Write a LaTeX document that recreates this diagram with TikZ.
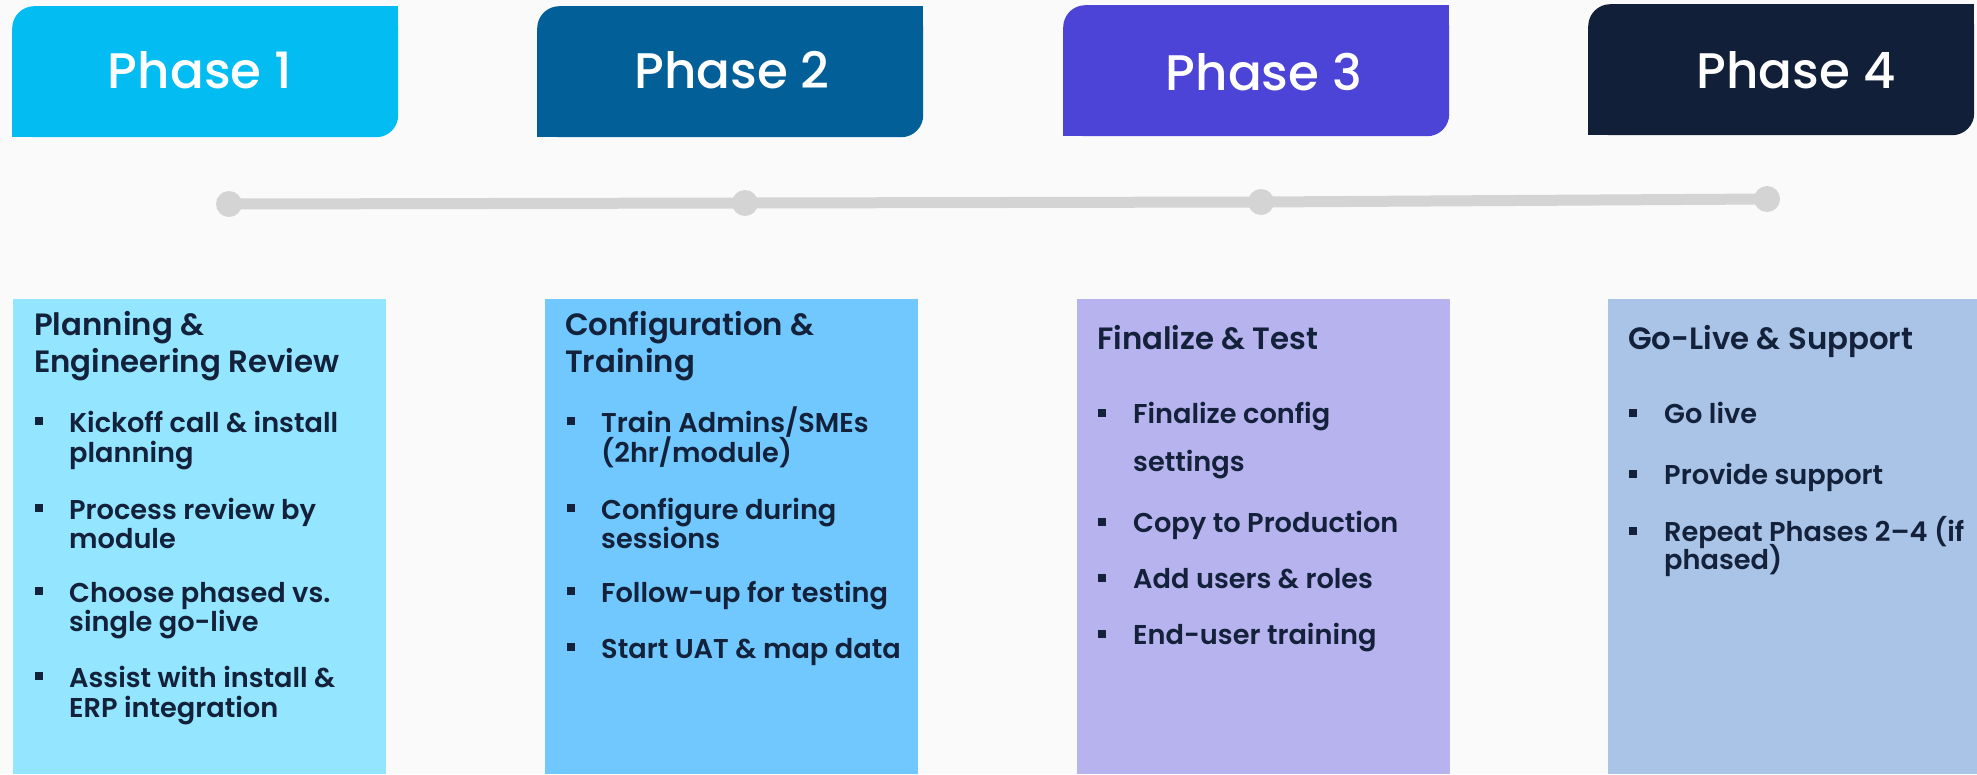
\documentclass[tikz,border=0pt]{standalone}
\usepackage{fontspec}
\setmainfont{Poppins}
\newfontfamily\hfont{Poppins Medium}
\newfontfamily\bfont{Poppins SemiBold}
\definecolor{bg}{HTML}{FAFAFA}
\definecolor{p1}{HTML}{02BCF2}
\definecolor{p2}{HTML}{025F98}
\definecolor{p3}{HTML}{4B44D6}
\definecolor{p4}{HTML}{112038}
\definecolor{c1}{HTML}{94E5FF}
\definecolor{c2}{HTML}{70C8FF}
\definecolor{c3}{HTML}{B7B3EE}
\definecolor{c4}{HTML}{A9C4E6}
\definecolor{ink}{HTML}{13213A}
\definecolor{track}{HTML}{D4D4D4}
\tikzset{
  hbox/.style={anchor=north west, minimum width=386pt, minimum height=131pt, inner sep=0pt, rounded corners=22pt},
  htext/.style={font=\hfont\fontsize{50}{50}\selectfont, text=white, anchor=base, inner sep=0pt},
  dot/.style={circle, fill=track, minimum size=26pt, inner sep=0pt},
  cbox/.style={anchor=north west, minimum height=475pt, inner sep=0pt},
  ttl/.style={font=\bfont\fontsize{30.8}{37}\selectfont, text=ink, anchor=base west, inner sep=0pt},
  itm/.style={font=\bfont\fontsize{27.2}{30}\selectfont, text=ink, anchor=base west, inner sep=0pt},
  sq/.style={rectangle, fill=ink, minimum size=8pt, inner sep=0pt},
}
\begin{document}
\begin{tikzpicture}[x=1pt,y=-1pt]
\useasboundingbox (0,0) rectangle (1977,774);
\fill[bg] (0,0) rectangle (1977,774);
% header boxes
\node[hbox, fill=p1] (h1) at (12,6) {};
\node[hbox, fill=p2] (h2) at (537,6) {};
\node[hbox, fill=p3, minimum height=131pt] (h3) at (1063,5) {};
\node[hbox, fill=p4] (h4) at (1588,4) {};
\fill[p1] (h1.north east) rectangle ++(-30,30);
\fill[p1] (h1.south west) rectangle ++(30,-30);
\fill[p2] (h2.north east) rectangle ++(-30,30);
\fill[p2] (h2.south west) rectangle ++(30,-30);
\fill[p3] (h3.north east) rectangle ++(-30,30);
\fill[p3] (h3.south west) rectangle ++(30,-30);
\fill[p4] (h4.north east) rectangle ++(-30,30);
\fill[p4] (h4.south west) rectangle ++(30,-30);
\node[htext] (t1) at (200,88) {Phase 1};
\node[htext] (t2) at (732,88) {Phase 2};
\node[htext] (t3) at (1264,90) {Phase 3};
\node[htext] (t4) at (1796,88) {Phase 4};
% timeline
\node[dot] (d1) at (229,204) {};
\node[dot] (d2) at (745,203) {};
\node[dot] (d3) at (1261,202) {};
\node[dot] (d4) at (1767,199) {};
\draw[track, line width=11pt] (d1.center) -- (d2.center) -- (d3.center) -- (d4.center);
% content boxes
\node[cbox, fill=c1, minimum width=373pt] (b1) at (13,299) {};
\node[cbox, fill=c2, minimum width=373pt] (b2) at (545,299) {};
\node[cbox, fill=c3, minimum width=373pt] (b3) at (1077,299) {};
\node[cbox, fill=c4, minimum width=369pt] (b4) at (1608,299) {};
% box 1
\node[ttl] (a0) at (34,335) {Planning \&};
\node[ttl] (a0b) at (34,372) {Engineering Review};
\node[sq] (s11) at (39,421) {};
\node[itm] (a1) at (69,432) {Kickoff call \& install};
\node[itm] (a1b) at (69,462) {planning};
\node[sq] (s12) at (39,508) {};
\node[itm] (a2) at (69,519) {Process review by};
\node[itm] (a2b) at (69,548) {module};
\node[sq] (s13) at (39,591) {};
\node[itm] (a3) at (69,602) {Choose phased vs.};
\node[itm] (a3b) at (69,631) {single go-live};
\node[sq] (s14) at (39,676) {};
\node[itm] (a4) at (69,687) {Assist with install \&};
\node[itm] (a4b) at (69,717) {ERP integration};
% box 2
\node[ttl] (e0) at (565,335) {Configuration \&};
\node[ttl] (e0b) at (565,372) {Training};
\node[sq] (s21) at (571,421) {};
\node[itm] (e1) at (601,432) {Train Admins/SMEs};
\node[itm] (e1b) at (601,462) {(2hr/module)};
\node[sq] (s22) at (571,508) {};
\node[itm] (e2) at (601,519) {Configure during};
\node[itm] (e2b) at (601,548) {sessions};
\node[sq] (s23) at (571,591) {};
\node[itm] (e3) at (601,602) {Follow-up for testing};
\node[sq] (s24) at (571,647) {};
\node[itm] (e4) at (601,658) {Start UAT \& map data};
% box 3
\node[ttl] (f0) at (1097,349) {Finalize \& Test};
\node[sq] (s31) at (1102,413) {};
\node[itm] (f1) at (1133,423) {Finalize config};
\node[itm] (f1b) at (1133,471) {settings};
\node[sq] (s32) at (1102,522) {};
\node[itm] (f2) at (1133,532) {Copy to Production};
\node[sq] (s33) at (1102,578) {};
\node[itm] (f3) at (1133,588) {Add users \& roles};
\node[sq] (s34) at (1102,634) {};
\node[itm] (f4) at (1133,644) {End-user training};
% box 4
\node[ttl] (g0) at (1628,349) {Go-Live \& Support};
\node[sq] (s41) at (1633,413) {};
\node[itm] (g1) at (1664,423) {Go live};
\node[sq] (s42) at (1633,474) {};
\node[itm] (g2) at (1664,484) {Provide support};
\node[sq] (s43) at (1633,531) {};
\node[itm] (g3) at (1664,541) {Repeat Phases 2–4 (if};
\node[itm] (g3b) at (1664,569) {phased)};
\end{tikzpicture}
\end{document}
